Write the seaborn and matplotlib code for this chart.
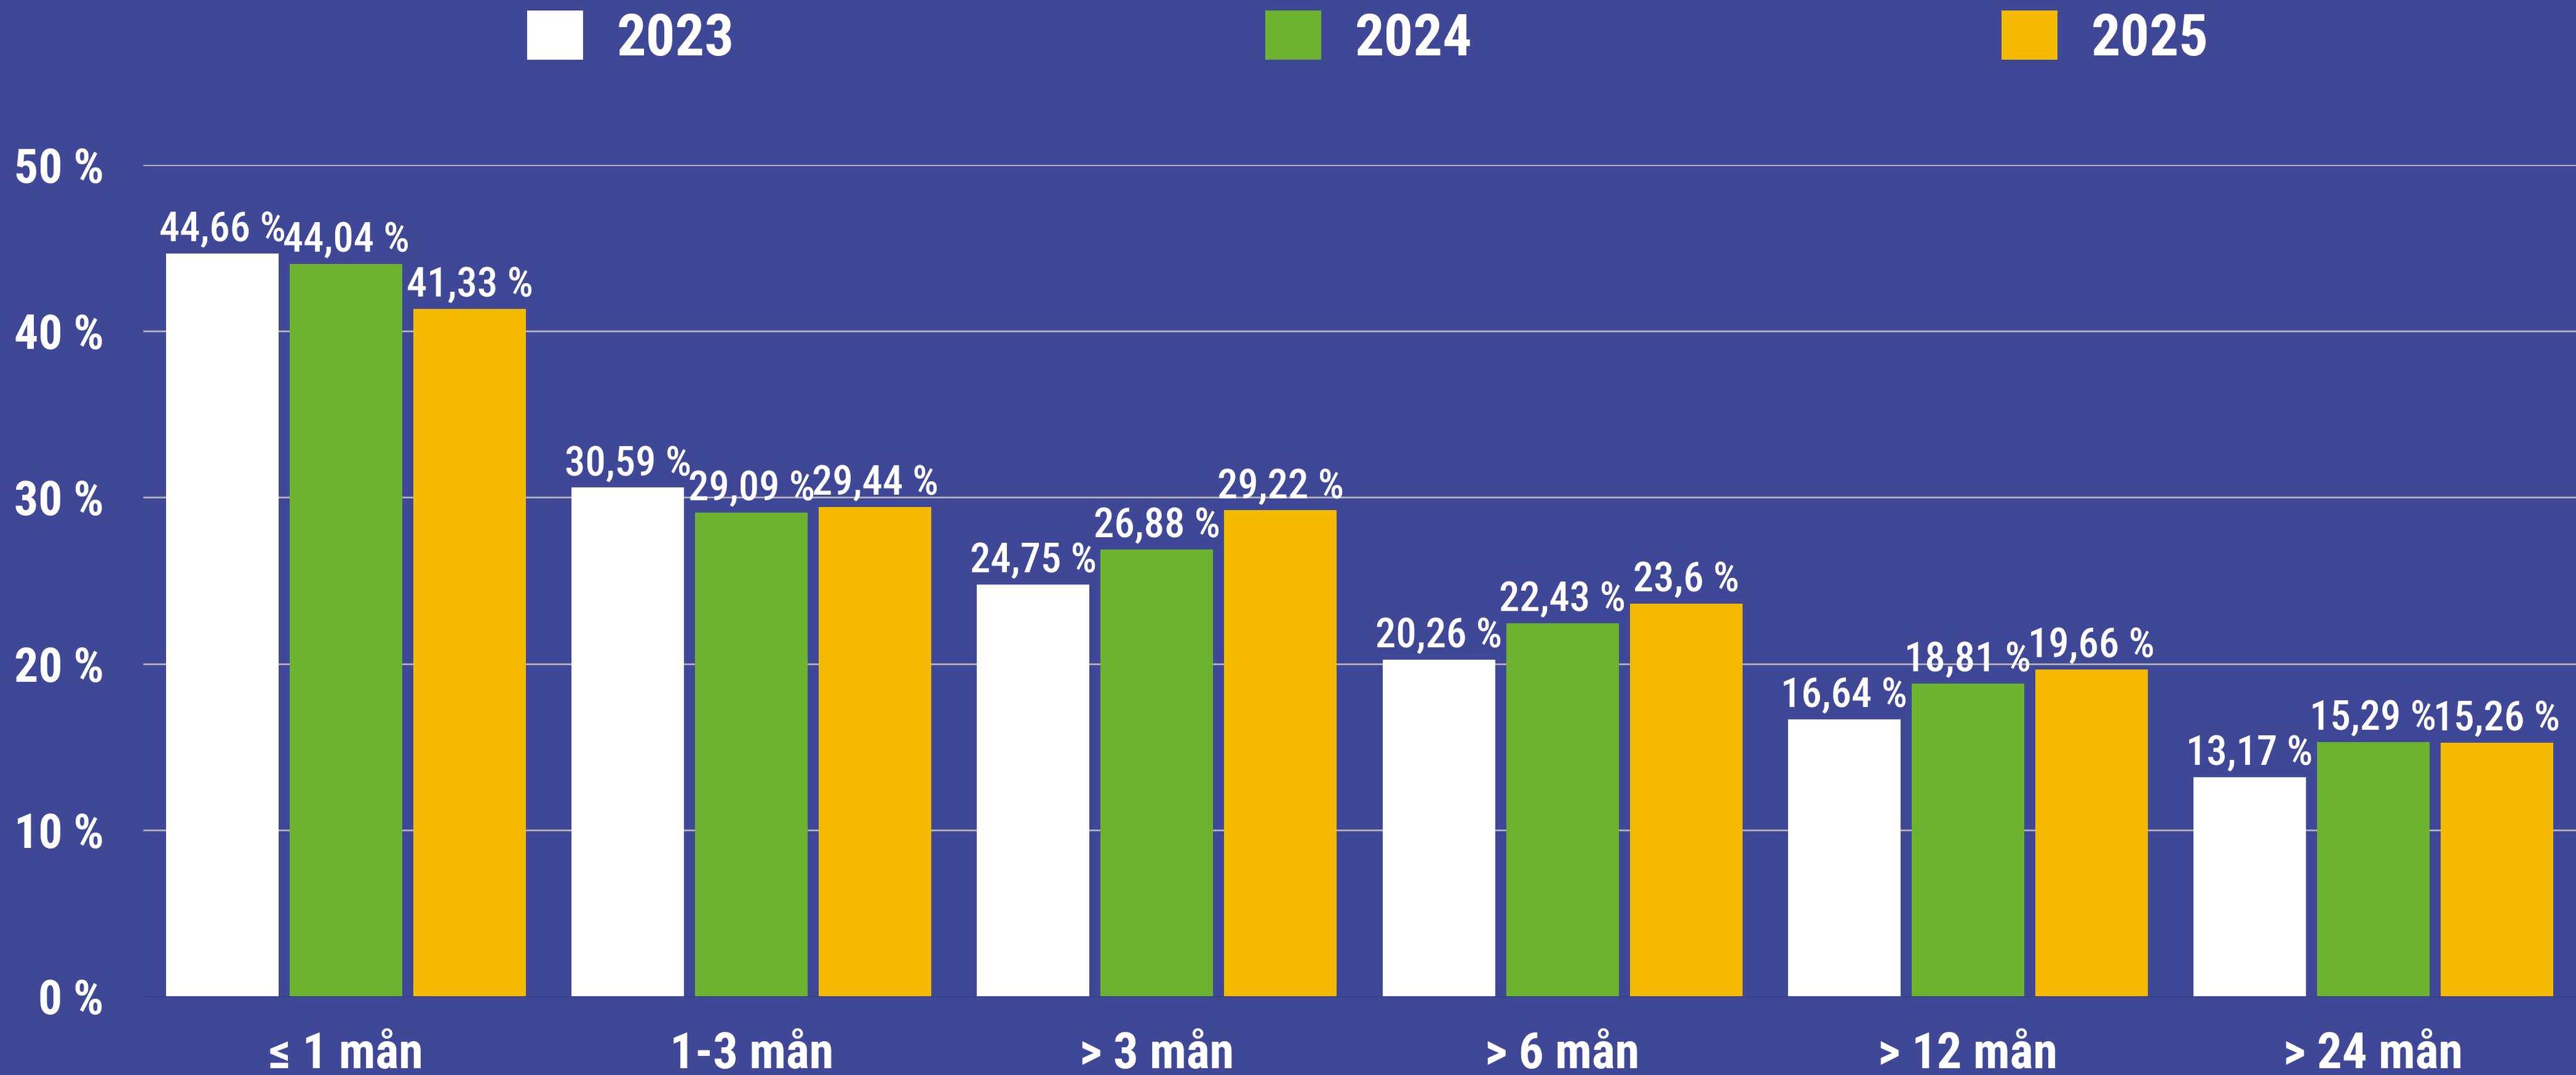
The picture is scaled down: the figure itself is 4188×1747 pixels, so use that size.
import matplotlib
matplotlib.use("Agg")
import matplotlib.pyplot as plt
import seaborn as sns
import pandas as pd
from matplotlib import font_manager

categories = ["≤ 1 mån", "1-3 mån", "> 3 mån", "> 6 mån", "> 12 mån", "> 24 mån"]
years = ["2023", "2024", "2025"]
values_2023 = [44.66, 30.59, 24.75, 20.26, 16.64, 13.17]
values_2024 = [44.04, 29.09, 26.88, 22.43, 18.81, 15.29]
values_2025 = [41.33, 29.44, 29.22, 23.6, 19.66, 15.26]
y_ticks = [0, 10, 20, 30, 40, 50]

BG = "#3F4897"
colors = {"2023": "#FFFFFF", "2024": "#6DB32F", "2025": "#F5BA00"}

sns.set_theme(style="white")
names = {f.name for f in font_manager.fontManager.ttflist}
fam = [f for f in ["Roboto Condensed", "Liberation Sans Narrow", "DejaVu Sans"] if f in names] or ["DejaVu Sans"]
if "DejaVu Sans" not in fam:
    fam.append("DejaVu Sans")
plt.rcParams["font.family"] = fam
plt.rcParams["font.weight"] = "medium"

df = pd.DataFrame({
    "cat": categories * 3,
    "year": [years[0]] * 6 + [years[1]] * 6 + [years[2]] * 6,
    "val": values_2023 + values_2024 + values_2025,
})

W, H = 4188, 1747
dpi = 100
fig = plt.figure(figsize=(W / dpi, H / dpi), dpi=dpi, facecolor=BG)
ax = fig.add_axes([233 / W, 128 / H, (W - 233) / W, (1619 - 268) / H])
ax.set_facecolor(BG)

sns.barplot(data=df, x="cat", y="val", hue="year", palette=colors,
            order=categories, hue_order=years, width=0.915, gap=0.09,
            saturation=1, ax=ax, errorbar=None, zorder=3, linewidth=0,
            edgecolor="none")

ax.set_xlim(-0.5, 5.5)
ax.set_ylim(0, 50)
ax.set_yticks(y_ticks)
ax.set_yticklabels([f"{t} %" for t in y_ticks])
ax.yaxis.grid(True, color="#B4B4B8", linewidth=2.0, zorder=0)
ax.set_axisbelow(True)
ax.set_xlabel("")
ax.set_ylabel("")
for s in ["top", "right", "left"]:
    ax.spines[s].set_visible(False)
ax.spines["bottom"].set_color("#383E8A")
ax.spines["bottom"].set_linewidth(2.0)
ax.spines["bottom"].set_zorder(2)

ax.tick_params(axis="y", length=0, pad=46, labelsize=56, labelcolor="white")
ax.tick_params(axis="x", length=0, pad=40, labelsize=58, labelcolor="white")
for t in ax.get_yticklabels() + ax.get_xticklabels():
    t.set_fontweight("semibold")

for cont in ax.containers:
    labels = [f"{v:g}".replace(".", ",") + " %" for v in cont.datavalues]
    ax.bar_label(cont, labels=labels, padding=4, color="white", fontsize=48,
                 fontweight="medium")

handles, labs = ax.get_legend_handles_labels()
if ax.get_legend() is not None:
    ax.get_legend().remove()
fs_leg = 68
xs = [857, 2057, 3254]
for h, l, x0 in zip(handles, labs, xs):
    h.set_linewidth(0)
    leg = fig.legend([h], [l], loc="center left",
                     bbox_to_anchor=(x0 / W, 1 - 63 / H), frameon=False,
                     fontsize=fs_leg, labelcolor="white", borderpad=0,
                     borderaxespad=0, handlelength=0.96, handleheight=0.93,
                     handletextpad=0.58,
                     prop={"size": fs_leg, "weight": "semibold"})

fig.savefig("out.png", dpi=dpi, facecolor=BG)
